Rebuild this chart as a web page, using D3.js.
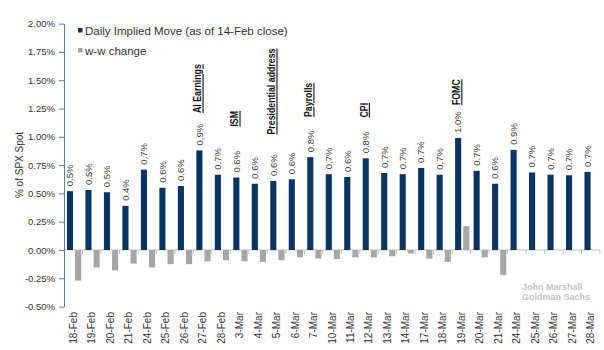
<!DOCTYPE html>
<html><head><meta charset="utf-8">
<script src="https://cdn.jsdelivr.net/npm/d3@7/dist/d3.min.js"></script>
<style>
html,body{margin:0;padding:0;background:#fff;}
svg{display:block;font-family:"Liberation Sans",Arial,sans-serif;}
</style></head>
<body><svg id="chart" width="604" height="350"></svg>
<script>
const categories = ["18-Feb","19-Feb","20-Feb","21-Feb","24-Feb","25-Feb","26-Feb","27-Feb","28-Feb","3-Mar","4-Mar","5-Mar","6-Mar","7-Mar","10-Mar","11-Mar","12-Mar","13-Mar","14-Mar","17-Mar","18-Mar","19-Mar","20-Mar","21-Mar","24-Mar","25-Mar","26-Mar","27-Mar","28-Mar"];
const impliedMove = [0.52,0.53,0.51,0.39,0.71,0.55,0.565,0.88,0.665,0.64,0.585,0.61,0.625,0.82,0.67,0.645,0.81,0.68,0.67,0.725,0.665,0.99,0.70,0.585,0.885,0.685,0.665,0.66,0.69];
const wwChange = [-0.27,-0.155,-0.18,-0.12,-0.155,-0.125,-0.125,-0.10,-0.09,-0.10,-0.105,-0.09,-0.065,-0.075,-0.08,-0.065,-0.065,-0.055,-0.03,-0.077,-0.105,0.21,-0.065,-0.22,null,null,null,null,null];
const yTicks = [-0.5,-0.25,0,0.25,0.5,0.75,1.0,1.25,1.5,1.75,2.0];
const seriesNames = ["Daily Implied Move (as of 14-Feb close)","w-w change"];
const events = ["AI Earnings","ISM","Presidential address","Payrolls","CPI","FOMC"];
const eventDates = ["27-Feb","3-Mar","5-Mar","7-Mar","12-Mar","19-Mar"];
const eventLevels = [1.21,1.09,1.02,1.175,1.17,1.28];

const navy = "#0c3461", grey = "#a6a6a6";
const svg = d3.select("#chart");
const y = d3.scaleLinear().domain([-0.5,2.0]).range([306.6,23.6]);
const x = d3.scaleBand().domain(categories).range([64,600]).padding(0);
const bw = x.bandwidth();

// x axis line at zero
svg.append("line").attr("x1",64).attr("x2",600).attr("y1",y(0)).attr("y2",y(0)).attr("stroke","#bfbfbf").attr("stroke-width",1);
svg.selectAll(".xt").data(categories).enter().append("line")
  .attr("x1",d=>x(d)+bw).attr("x2",d=>x(d)+bw).attr("y1",y(0)).attr("y2",y(0)+4)
  .attr("stroke","#bfbfbf");

// bars
svg.selectAll(".dark").data(categories).enter().append("rect")
  .attr("x",d=>x(d)+bw*0.16).attr("width",bw*0.33)
  .attr("y",(d,i)=>y(impliedMove[i])).attr("height",(d,i)=>y(0)-y(impliedMove[i]))
  .attr("fill",navy);
svg.selectAll(".gray").data(categories.filter((d,i)=>wwChange[i]!==null)).enter().append("rect")
  .attr("x",d=>x(d)+bw*0.6).attr("width",bw*0.33)
  .attr("y",d=>{const v=wwChange[categories.indexOf(d)];return v>=0?y(v):y(0);})
  .attr("height",d=>{const v=wwChange[categories.indexOf(d)];return Math.abs(y(v)-y(0));})
  .attr("fill",grey);

// bar labels
svg.selectAll(".lbl").data(categories).enter().append("text")
  .attr("transform",(d,i)=>`translate(${x(d)+bw*0.325+3.3},${y(impliedMove[i])-5}) rotate(-90)`)
  .attr("font-size","9.5px").attr("fill","#404040")
  .text((d,i)=>d3.format(".1f")(impliedMove[i])+"%");

// y axis
const yAxis = d3.axisLeft(y).tickValues(yTicks).tickFormat(d=>d.toFixed(2)+"%").tickSize(5).tickSizeOuter(0);
const gy = svg.append("g").attr("transform","translate(64,0)").call(yAxis);
gy.select(".domain").attr("stroke","#5b7ea6");
gy.selectAll(".tick line").attr("stroke","#5b7ea6");
gy.selectAll(".tick text").attr("font-size","9.5px").attr("fill","#333").attr("font-family","'Liberation Sans',Arial,sans-serif").attr("x",-9);

// y title
svg.append("text").attr("transform","translate(23,165) rotate(-90)").attr("text-anchor","middle")
  .attr("font-size","10px").attr("fill","#333").text("% of SPX Spot");

// x labels
svg.selectAll(".xl").data(categories).enter().append("text")
  .attr("transform",d=>`translate(${x(d)+bw/2+3.5},312) rotate(-90)`)
  .attr("text-anchor","end").attr("font-size","10px").attr("fill","#333").text(d=>d);

// legend
const lg = svg.append("g");
[navy,grey].forEach((c,i)=>{
  lg.append("rect").attr("x",78).attr("y",28+i*20).attr("width",4.5).attr("height",4.5).attr("fill",c);
  lg.append("text").attr("x",85).attr("y",34.5+i*20).attr("font-size","11.5px").attr("fill","#333").text(seriesNames[i]);
});

// events
svg.selectAll(".ev").data(events).enter().append("text")
  .attr("transform",(d,i)=>`translate(${x(eventDates[i])+bw*0.325+2},${y(eventLevels[i])}) rotate(-90) scale(0.8,1)`)
  .attr("font-family","'Liberation Sans',Arial,sans-serif")
  .attr("font-weight","bold").attr("font-size","11px").attr("fill","#111")
  .attr("text-decoration","underline").text(d=>d);

// watermark
svg.append("text").attr("x",522).attr("y",290).attr("font-size","9px").attr("font-weight","bold").attr("fill","#c4c4c4").text("John Marshall");
svg.append("text").attr("x",522).attr("y",300).attr("font-size","9px").attr("font-weight","bold").attr("fill","#c4c4c4").text("Goldman Sachs");
</script></body></html>
